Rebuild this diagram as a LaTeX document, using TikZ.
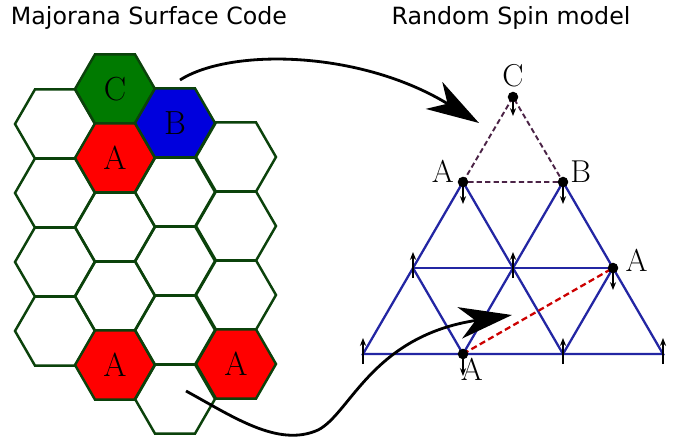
\documentclass[tikz,border=0pt]{standalone}
\usepackage{fontspec}
\newfontfamily\headfont{DejaVu Sans}
\usetikzlibrary{shapes.geometric, arrows.meta, positioning}
\definecolor{hexgreen}{HTML}{0B420B}
\definecolor{cellgreen}{HTML}{007A00}
\definecolor{cellblue}{HTML}{0000DD}
\definecolor{cellred}{HTML}{FF0000}
\definecolor{bondblue}{HTML}{2326A3}
\definecolor{stringpurple}{HTML}{4B2346}
\definecolor{stringred}{HTML}{CC0000}

\begin{document}
\begin{tikzpicture}[
  x=0.02cm, y=-0.02cm,
  hexcell/.style={regular polygon, regular polygon sides=6, draw=hexgreen, line width=1.4pt, minimum size=1.6cm, inner sep=0pt, outer sep=0pt, font=\fontsize{19}{19}\selectfont},
  headline/.style={font=\headfont\fontsize{13.5}{16}\selectfont},
  bond/.style={draw=bondblue, line width=1.3pt},
  purplestring/.style={draw=stringpurple, line width=1.1pt, dash pattern=on 3pt off 1.8pt},
  redstring/.style={draw=stringred, line width=1.3pt, dash pattern=on 3.5pt off 2pt},
  spinarrow/.style={-{Stealth[length=4.5pt, width=3.5pt]}, line width=0.7pt},
  sitelabel/.style={inner sep=0pt, font=\fontsize{18}{18}\selectfont},
  maparrow/.style={-{Stealth[length=30pt, width=18pt, inset=9pt]}, line width=1.6pt}
]
\useasboundingbox (0,0) rectangle (675,439);

\node[headline] (lhead) at (149,18) {Majorana Surface Code};
\node[headline] (rhead) at (511,18) {Random Spin model};


\node[hexcell] (h11) at (55,124) {};
\node[hexcell] (h12) at (55,193) {};
\node[hexcell] (h13) at (55,262) {};
\node[hexcell] (h14) at (55,331) {};

\node[hexcell, fill=cellgreen] (hC) at (115,89) {C};
\node[hexcell, fill=cellred] (hA1) at (115,158) {A};
\node[hexcell] (h23) at (115,227) {};
\node[hexcell] (h24) at (115,296) {};
\node[hexcell, fill=cellred] (hA2) at (115,365) {A};

\node[hexcell, fill=cellblue] (hB) at (175,123) {B};
\node[hexcell] (h32) at (175,192) {};
\node[hexcell] (h33) at (175,261) {};
\node[hexcell] (h34) at (175,330) {};
\node[hexcell] (h35) at (175,399) {};

\node[hexcell] (h41) at (236,157) {};
\node[hexcell] (h42) at (236,226) {};
\node[hexcell] (h43) at (236,295) {};
\node[hexcell, fill=cellred] (hA3) at (236,364) {A};


\coordinate (tC) at (513,97);
\coordinate (tA) at (463,182);
\coordinate (tB) at (563,182);
\coordinate (r31) at (413,268);
\coordinate (r32) at (513,268);
\coordinate (r33) at (613,268);
\coordinate (r41) at (363,354);
\coordinate (r42) at (463,354);
\coordinate (r43) at (563,354);
\coordinate (r44) at (663,354);

\draw[bond] (tA) -- (r41) -- (r44) -- (tB);
\draw[bond] (r31) -- (r33);
\draw[bond] (tA) -- (r43);
\draw[bond] (tB) -- (r42);
\draw[bond] (r31) -- (r42);
\draw[bond] (r33) -- (r43);

\draw[purplestring] (tA) -- (tC) -- (tB) -- (tA);
\draw[redstring] (r42) -- (r33);

\fill (tC) circle (3pt);
\fill (tA) circle (3pt);
\fill (tB) circle (3pt);
\fill (r33) circle (3pt);
\fill (r42) circle (3pt);

\draw[spinarrow] (tC) -- ++(0,19);
\draw[spinarrow] (tA) -- ++(0,22);
\draw[spinarrow] (tB) -- ++(0,22);
\draw[spinarrow] (r33) -- ++(0,22);
\draw[spinarrow] (r42) -- ++(0,22);
\draw[spinarrow] (r31) ++(0,10) -- ++(0,-26);
\draw[spinarrow] (r32) ++(0,10) -- ++(0,-26);
\draw[spinarrow] (r41) ++(0,10) -- ++(0,-26);
\draw[spinarrow] (r43) ++(0,10) -- ++(0,-26);
\draw[spinarrow] (r44) ++(0,10) -- ++(0,-26);

\node[sitelabel, above=6pt of tC, anchor=base] (lC) {C};
\node[sitelabel, left=5pt of tA, anchor=base east] (lA1) {A};
\node[sitelabel, right=4pt of tB, anchor=base west] (lB) {B};
\node[sitelabel, right=7pt of r33, yshift=-2pt, anchor=base west] (lA2) {A};
\node[sitelabel, below=2pt of r42, xshift=5pt, anchor=north] (lA3) {A};


\coordinate (s1) at (180,80);
\coordinate (e1) at (479,123);
\coordinate (s2) at (186,391);
\coordinate (m2) at (318,430);
\coordinate (e2) at (512,315);

\draw[maparrow] (s1) .. controls (230,48) and (360,50) .. (e1);
\draw[maparrow] (s2) .. controls (232,416) and (278,448) .. (m2) .. controls (350,414) and (372,336) .. (e2);

\end{tikzpicture}
\end{document}
